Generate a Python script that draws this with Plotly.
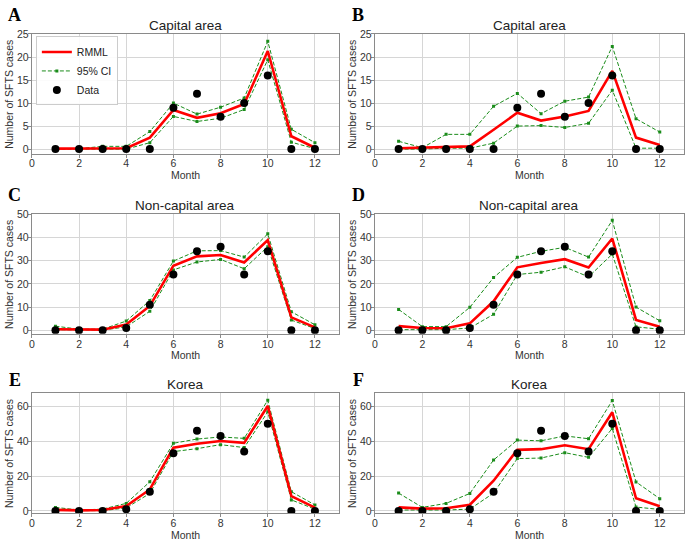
import plotly.graph_objects as go

months = list(range(1, 13))

# Panel A: Capital area (RMML)
a_rmml = [0.1, 0.1, 0.2, 0.2, 2.5, 8.5, 6.8, 7.8, 9.8, 21.3, 2.8, 0.3]
a_upper = [0.1, 0.1, 0.6, 0.6, 3.8, 10.0, 7.6, 9.1, 11.1, 23.4, 4.3, 1.4]
a_lower = [0.0, 0.0, 0.0, 0.0, 1.4, 7.1, 6.0, 6.7, 8.6, 19.4, 1.5, 0.1]
# Panel B: Capital area
b_rmml = [0.2, 0.3, 0.5, 0.6, 4.2, 7.9, 6.2, 7.1, 8.3, 17.0, 2.5, 0.9]
b_upper = [1.7, 0.3, 3.2, 3.2, 9.3, 12.1, 7.7, 10.4, 11.3, 22.3, 6.6, 3.7]
b_lower = [0.0, 0.0, 0.2, 0.2, 1.3, 5.0, 5.1, 4.7, 5.6, 12.8, 0.2, 0.2]
# Panel C: Non-capital area
c_rmml = [0.5, 0.3, 0.3, 2.5, 10.5, 27.8, 31.8, 32.4, 29.2, 38.8, 5.6, 1.3]
c_upper = [1.8, 0.5, 0.5, 4.0, 12.8, 29.8, 34.2, 34.3, 31.5, 41.5, 8.0, 2.4]
c_lower = [0.3, 0.1, 0.1, 1.5, 8.2, 26.0, 29.4, 30.5, 26.5, 36.0, 4.4, 0.8]
# Panel D: Non-capital area
d_rmml = [1.8, 1.0, 0.9, 3.0, 12.5, 27.1, 29.0, 30.6, 27.0, 39.5, 4.5, 1.5]
d_upper = [9.0, 1.6, 1.6, 9.9, 22.7, 31.4, 34.0, 35.7, 31.5, 47.3, 10.0, 4.1]
d_lower = [0.3, 0.3, 0.3, 1.0, 6.9, 24.0, 25.0, 27.3, 23.0, 32.8, 1.5, 0.5]
# Panel E: Korea
e_rmml = [0.6, 0.3, 0.5, 2.8, 12.3, 36.3, 38.5, 40.1, 39.0, 60.2, 8.5, 1.9]
e_upper = [2.0, 0.5, 1.0, 4.3, 16.7, 38.8, 41.2, 42.4, 41.6, 63.5, 11.0, 3.4]
e_lower = [0.3, 0.1, 0.1, 1.7, 10.0, 34.0, 35.7, 38.0, 36.3, 56.8, 6.3, 1.0]
# Panel F: Korea
f_rmml = [2.0, 1.3, 1.5, 3.5, 17.3, 35.0, 35.4, 37.6, 35.4, 56.6, 7.2, 2.6]
f_upper = [10.2, 2.0, 4.3, 10.0, 29.2, 40.6, 40.2, 43.0, 41.4, 63.3, 16.6, 7.0]
f_lower = [0.5, 0.5, 0.5, 1.0, 10.2, 30.0, 30.3, 33.4, 30.7, 47.3, 2.2, 0.8]

# Observed data
capital_data = [0, 0, 0, 0, 0, 9, 12, 7, 10, 16, 0, 0]
noncapital_data = [0, 0, 0, 1, 11, 24, 34, 36, 24, 34, 0, 0]
korea_data = [0, 0, 0, 1, 11, 33, 46, 43, 34, 50, 0, 0]

titles = ["Capital area", "Capital area", "Non-capital area", "Non-capital area", "Korea", "Korea"]
letters = ["A", "B", "C", "D", "E", "F"]
x_ticks = [0, 2, 4, 6, 8, 10, 12]

W, H = 685, 542
panels = [
    (a_rmml, a_upper, a_lower, capital_data, [-1, 25], [0, 5, 10, 15, 20, 25]),
    (b_rmml, b_upper, b_lower, capital_data, [-1, 25], [0, 5, 10, 15, 20, 25]),
    (c_rmml, c_upper, c_lower, noncapital_data, [-1.5, 50], [0, 10, 20, 30, 40, 50]),
    (d_rmml, d_upper, d_lower, noncapital_data, [-1.5, 50], [0, 10, 20, 30, 40, 50]),
    (e_rmml, e_upper, e_lower, korea_data, [-1.2, 67.5], [0, 20, 40, 60]),
    (f_rmml, f_upper, f_lower, korea_data, [-1.2, 67.5], [0, 20, 40, 60]),
]

# pixel boxes of plot areas (left, right, top, bottom)
col_x = [(29, 337), (373.5, 683.5)]
row_y = [(28.5, 150.5), (212, 334), (394.5, 516.5)]
letter_pos = [(12, 9), (357, 9), (12, 193), (357, 193), (12, 381), (357, 381)]

RED = "#ff0000"
GREEN = "#1a8c1a"
FONT = "Liberation Sans, Arial, sans-serif"

fig = go.Figure()
layout = dict(
    width=W, height=H, margin=dict(l=0, r=0, t=0, b=0),
    paper_bgcolor="white", plot_bgcolor="white",
    font=dict(family=FONT, size=10, color="#333333"),
    showlegend=True,
    legend=dict(x=33 / W, y=1 - 31 / H, xanchor="left", yanchor="top",
                bgcolor="rgba(255,255,255,0.9)", bordercolor="#cccccc", borderwidth=1,
                font=dict(size=10.5, color="#222222"), tracegroupgap=0, itemwidth=30),
)
annotations = []

for i, (rm, up, lo, dat, yr, yt) in enumerate(panels):
    r, c = divmod(i, 2)
    xa = "x" if i == 0 else f"x{i+1}"
    ya = "y" if i == 0 else f"y{i+1}"
    L, R = col_x[c]
    T, B = row_y[r]
    first = i == 0
    fig.add_trace(go.Scatter(x=months, y=up, mode="lines+markers", name="95% CI",
                             line=dict(color=GREEN, width=1, dash="4px,2px"),
                             marker=dict(symbol="square", size=3, color=GREEN),
                             xaxis=xa, yaxis=ya, showlegend=first, legendrank=2))
    fig.add_trace(go.Scatter(x=months, y=lo, mode="lines+markers", name="95% CI",
                             line=dict(color=GREEN, width=1, dash="4px,2px"),
                             marker=dict(symbol="square", size=3, color=GREEN),
                             xaxis=xa, yaxis=ya, showlegend=False))
    fig.add_trace(go.Scatter(x=months, y=rm, mode="lines", name="RMML",
                             line=dict(color=RED, width=2.6),
                             xaxis=xa, yaxis=ya, showlegend=first, legendrank=1))
    fig.add_trace(go.Scatter(x=months, y=dat, mode="markers", name="Data",
                             marker=dict(color="black", size=8),
                             xaxis=xa, yaxis=ya, showlegend=first, legendrank=3))
    axis_common = dict(showgrid=True, gridcolor="#d6d6d6", gridwidth=1,
                       showline=True, linecolor="#8a8a8a", linewidth=1.3, mirror=True,
                       ticks="outside", ticklen=3, tickcolor="#8a8a8a",
                       tickfont=dict(size=10.5, color="#333333"), zeroline=False,
                       ticklabelstandoff=-3)
    layout["xaxis" if i == 0 else f"xaxis{i+1}"] = dict(
        domain=[L / W, R / W], anchor=ya, range=[0, 13], tickvals=x_ticks, **axis_common)
    layout["yaxis" if i == 0 else f"yaxis{i+1}"] = dict(
        domain=[1 - B / H, 1 - T / H], anchor=xa, range=yr, tickvals=yt, **axis_common)
    # title
    annotations.append(dict(text=titles[i], x=(L + R) / 2 / W, y=1 - (T - 9) / H,
                            xref="paper", yref="paper", showarrow=False,
                            xanchor="center", yanchor="middle",
                            font=dict(size=13.5, color="#222222", family=FONT)))
    # panel letter
    lx, ly = letter_pos[i]
    annotations.append(dict(text=f"<b>{letters[i]}</b>", x=lx / W, y=1 - ly / H,
                            xref="paper", yref="paper", showarrow=False,
                            xanchor="center", yanchor="middle",
                            font=dict(size=18, color="black",
                                      family="Liberation Serif, Times New Roman, serif")))
    # x axis title
    annotations.append(dict(text="Month", x=(L + R) / 2 / W, y=1 - (B + 22) / H,
                            xref="paper", yref="paper", showarrow=False,
                            xanchor="center", yanchor="middle",
                            font=dict(size=10.5, color="#333333", family=FONT)))
    # y axis title
    annotations.append(dict(text="Number of SFTS cases", x=(L - 23) / W, y=1 - (T + B) / 2 / H,
                            xref="paper", yref="paper", showarrow=False, textangle=-90,
                            xanchor="center", yanchor="middle",
                            font=dict(size=10.5, color="#333333", family=FONT)))

layout["annotations"] = annotations
fig.update_layout(**layout)
fig.write_html("out.html", config={"displayModeBar": False},
               post_script="document.body.style.margin='0';document.body.style.padding='0';")
